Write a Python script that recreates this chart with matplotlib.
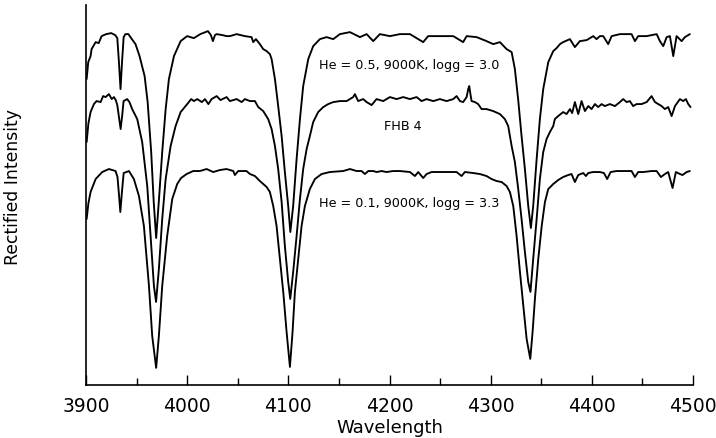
import numpy as np
import matplotlib.pyplot as plt
from matplotlib.ticker import MultipleLocator

# model spectrum, He = 0.5, 9000K, logg = 3.0 (offset upward)
wave_he05 = [3900.7, 3902.3, 3904.6, 3905.6, 3909.6, 3912.6, 3915.5, 3920.0, 3925.0, 3929.0,
             3931.0, 3932.5, 3934.2, 3935.8, 3937.3, 3939.0, 3942.0, 3944.0, 3949.0, 3953.0,
             3958.0, 3961.0, 3964.5, 3967.0, 3969.4, 3972.0, 3975.4, 3978.8, 3982.0, 3987.0,
             3993.6, 4000.0, 4006.7, 4013.0, 4020.6, 4023.5, 4025.5, 4027.5, 4029.2, 4035.0,
             4039.0, 4042.3, 4048.9, 4057.1, 4063.7, 4065.3, 4068.0, 4071.9, 4075.2, 4078.6,
             4081.8, 4083.5, 4086.8, 4090.0, 4093.4, 4096.6, 4099.9, 4102.0, 4104.8, 4108.2,
             4111.5, 4114.7, 4119.7, 4124.6, 4131.2, 4137.8, 4144.4, 4151.0, 4160.9, 4170.8,
             4177.4, 4183.9, 4190.5, 4200.4, 4210.3, 4220.2, 4228.4, 4233.3, 4238.2, 4249.8,
             4263.0, 4272.8, 4276.2, 4286.1, 4295.9, 4302.5, 4309.1, 4315.7, 4320.7, 4323.9,
             4327.2, 4330.5, 4333.8, 4337.1, 4339.7, 4342.0, 4345.4, 4348.6, 4351.9, 4356.9,
             4361.8, 4365.1, 4368.4, 4371.6, 4378.3, 4383.2, 4388.1, 4394.8, 4401.3, 4404.6,
             4407.9, 4411.2, 4416.1, 4419.5, 4427.7, 4439.2, 4442.5, 4445.8, 4454.1, 4464.0,
             4467.2, 4470.5, 4473.9, 4477.1, 4480.4, 4483.7, 4488.7, 4491.9, 4496.8]
flux_he05 = [3.06, 3.23, 3.29, 3.36, 3.43, 3.42, 3.49, 3.51, 3.52, 3.50,
             3.47, 3.25, 2.96, 3.25, 3.48, 3.51, 3.51, 3.48, 3.41, 3.29,
             3.09, 2.83, 2.33, 1.83, 1.47, 1.83, 2.33, 2.76, 3.06, 3.29,
             3.44, 3.49, 3.47, 3.51, 3.54, 3.50, 3.44, 3.50, 3.51, 3.50,
             3.49, 3.49, 3.51, 3.49, 3.48, 3.43, 3.46, 3.41, 3.36, 3.34,
             3.31, 3.26, 3.06, 2.79, 2.49, 2.13, 1.79, 1.53, 1.79, 2.26,
             2.66, 2.99, 3.26, 3.39, 3.46, 3.48, 3.46, 3.51, 3.53, 3.48,
             3.51, 3.44, 3.51, 3.49, 3.51, 3.51, 3.46, 3.43, 3.49, 3.49,
             3.49, 3.43, 3.49, 3.48, 3.44, 3.41, 3.43, 3.36, 3.33, 3.16,
             2.85, 2.49, 2.16, 1.79, 1.57, 1.79, 2.26, 2.66, 2.96, 3.23,
             3.34, 3.37, 3.41, 3.43, 3.46, 3.38, 3.44, 3.45, 3.49, 3.46,
             3.49, 3.49, 3.41, 3.49, 3.51, 3.51, 3.44, 3.49, 3.49, 3.51,
             3.44, 3.39, 3.48, 3.49, 3.29, 3.49, 3.44, 3.48, 3.51]

# observed spectrum of FHB 4
wave_fhb4 = [3900.7, 3902.5, 3904.6, 3907.9, 3910.5, 3914.5, 3917.0, 3919.5, 3922.7, 3925.5,
             3927.7, 3929.5, 3931.0, 3932.6, 3934.3, 3935.9, 3937.2, 3940.8, 3943.0, 3945.7,
             3950.7, 3955.6, 3960.6, 3963.9, 3967.2, 3969.3, 3972.1, 3975.4, 3978.8, 3983.7,
             3988.6, 3993.6, 4000.1, 4004.0, 4006.7, 4010.0, 4014.6, 4017.6, 4021.0, 4024.2,
             4029.2, 4033.0, 4039.0, 4042.3, 4048.9, 4053.9, 4057.1, 4062.1, 4067.0, 4070.3,
             4075.2, 4080.1, 4083.5, 4086.8, 4090.0, 4093.4, 4096.6, 4099.9, 4101.9, 4104.8,
             4108.2, 4111.5, 4114.7, 4118.1, 4121.3, 4124.6, 4129.5, 4134.5, 4139.4, 4144.4,
             4151.0, 4157.6, 4164.1, 4165.8, 4169.0, 4174.0, 4177.4, 4182.3, 4187.2, 4193.8,
             4200.4, 4207.0, 4213.5, 4220.2, 4226.8, 4231.7, 4236.6, 4243.2, 4249.8, 4256.4,
             4263.0, 4266.3, 4269.6, 4272.8, 4276.2, 4277.8, 4278.8, 4279.8, 4281.1, 4284.4,
             4287.6, 4291.0, 4295.9, 4302.5, 4309.1, 4314.0, 4317.3, 4320.7, 4323.9, 4327.2,
             4330.5, 4333.8, 4337.1, 4339.3, 4342.0, 4345.4, 4348.6, 4351.9, 4355.2, 4358.5,
             4361.8, 4363.4, 4366.7, 4371.6, 4375.0, 4378.3, 4380.5, 4383.2, 4386.5, 4389.8,
             4393.1, 4396.4, 4399.7, 4403.0, 4406.2, 4409.6, 4412.8, 4417.8, 4422.7, 4427.7,
             4430.9, 4434.3, 4437.5, 4440.8, 4444.2, 4449.1, 4454.1, 4459.0, 4462.3, 4465.5,
             4468.9, 4472.1, 4475.4, 4478.8, 4482.1, 4487.0, 4490.2, 4492.9, 4495.2, 4497.5]
flux_fhb4 = [2.43, 2.62, 2.73, 2.81, 2.84, 2.83, 2.89, 2.88, 2.91, 2.86,
             2.88, 2.85, 2.80, 2.68, 2.56, 2.70, 2.84, 2.86, 2.83, 2.76,
             2.66, 2.43, 1.99, 1.49, 0.99, 0.83, 1.16, 1.66, 2.06, 2.39,
             2.59, 2.73, 2.81, 2.86, 2.84, 2.86, 2.83, 2.86, 2.81, 2.86,
             2.89, 2.85, 2.88, 2.84, 2.86, 2.83, 2.86, 2.84, 2.84, 2.78,
             2.74, 2.66, 2.56, 2.39, 2.16, 1.83, 1.39, 1.03, 0.86, 1.13,
             1.49, 1.86, 2.16, 2.36, 2.49, 2.63, 2.73, 2.78, 2.81, 2.83,
             2.84, 2.84, 2.88, 2.91, 2.84, 2.86, 2.83, 2.80, 2.86, 2.84,
             2.88, 2.86, 2.88, 2.86, 2.88, 2.84, 2.86, 2.84, 2.86, 2.84,
             2.86, 2.89, 2.84, 2.83, 2.88, 2.96, 2.99, 2.92, 2.84, 2.83,
             2.81, 2.76, 2.76, 2.74, 2.71, 2.66, 2.59, 2.39, 2.23, 1.96,
             1.66, 1.33, 1.03, 0.93, 1.26, 1.66, 2.06, 2.33, 2.46, 2.53,
             2.59, 2.66, 2.69, 2.73, 2.71, 2.76, 2.72, 2.83, 2.71, 2.84,
             2.74, 2.79, 2.76, 2.81, 2.78, 2.81, 2.79, 2.81, 2.79, 2.83,
             2.86, 2.83, 2.84, 2.79, 2.81, 2.81, 2.83, 2.89, 2.83, 2.81,
             2.79, 2.76, 2.78, 2.69, 2.79, 2.86, 2.84, 2.86, 2.81, 2.78]

# model spectrum, He = 0.1, 9000K, logg = 3.3
wave_he01 = [3900.7, 3902.5, 3904.6, 3909.6, 3916.1, 3922.7, 3929.3, 3931.2, 3932.7, 3934.0,
             3935.5, 3937.3, 3942.5, 3947.4, 3952.4, 3957.3, 3962.3, 3965.5, 3969.4, 3972.1,
             3975.4, 3980.3, 3985.3, 3990.2, 3994.0, 3999.5, 4006.0, 4012.6, 4019.3, 4025.8,
             4032.4, 4039.0, 4045.6, 4047.2, 4050.5, 4058.7, 4062.1, 4067.0, 4071.9, 4075.2,
             4078.6, 4081.8, 4085.1, 4088.4, 4091.7, 4095.0, 4098.3, 4101.6, 4104.2, 4106.5,
             4109.8, 4113.1, 4116.4, 4121.3, 4126.3, 4132.9, 4141.1, 4154.2, 4160.9, 4167.5,
             4172.4, 4175.7, 4179.0, 4183.9, 4187.3, 4192.2, 4197.1, 4203.7, 4210.3, 4220.2,
             4225.1, 4228.4, 4233.3, 4236.7, 4241.6, 4249.8, 4259.7, 4266.3, 4271.2, 4274.5,
             4282.7, 4289.3, 4295.9, 4300.9, 4305.8, 4310.8, 4315.7, 4319.0, 4322.3, 4325.6,
             4328.9, 4332.2, 4335.5, 4339.1, 4341.4, 4343.7, 4347.0, 4350.4, 4353.6, 4356.9,
             4361.8, 4366.7, 4371.6, 4376.6, 4379.9, 4383.2, 4386.5, 4391.4, 4394.1, 4396.4,
             4401.3, 4407.9, 4411.9, 4415.1, 4418.5, 4424.4, 4434.3, 4439.2, 4442.5, 4445.8,
             4450.7, 4459.0, 4464.0, 4468.2, 4472.2, 4475.4, 4479.7, 4483.0, 4487.0, 4489.6,
             4493.6, 4496.8]
flux_he01 = [1.66, 1.82, 1.93, 2.06, 2.13, 2.16, 2.14, 2.08, 1.90, 1.73,
             1.92, 2.12, 2.14, 2.06, 1.89, 1.59, 0.99, 0.49, 0.17, 0.49,
             0.99, 1.49, 1.86, 2.01, 2.07, 2.11, 2.14, 2.14, 2.16, 2.13,
             2.15, 2.16, 2.14, 2.10, 2.14, 2.14, 2.11, 2.09, 2.04, 2.01,
             1.98, 1.93, 1.79, 1.59, 1.26, 0.93, 0.53, 0.18, 0.53, 0.93,
             1.26, 1.59, 1.79, 1.96, 2.06, 2.11, 2.13, 2.14, 2.16, 2.14,
             2.14, 2.11, 2.14, 2.14, 2.13, 2.14, 2.13, 2.14, 2.14, 2.13,
             2.09, 2.13, 2.07, 2.11, 2.13, 2.13, 2.13, 2.13, 2.09, 2.13,
             2.12, 2.11, 2.09, 2.06, 2.04, 2.03, 1.99, 1.93, 1.79, 1.49,
             1.13, 0.79, 0.46, 0.26, 0.53, 0.86, 1.26, 1.59, 1.83, 1.96,
             2.01, 2.05, 2.08, 2.10, 2.11, 2.03, 2.10, 2.12, 2.09, 2.12,
             2.13, 2.13, 2.12, 2.06, 2.13, 2.14, 2.14, 2.14, 2.08, 2.13,
             2.13, 2.14, 2.14, 2.08, 2.11, 2.13, 1.97, 2.13, 2.11, 2.10,
             2.13, 2.14]

labels = ['He = 0.5, 9000K, logg = 3.0', 'FHB 4', 'He = 0.1, 9000K, logg = 3.3']
label_pos = [(4219, 3.21), (4213, 2.60), (4219, 1.83)]

fig = plt.figure(figsize=(7.16, 4.39), dpi=100)
ax = fig.add_axes([0.120, 0.121, 0.848, 0.865])

for w, f in [(wave_he05, flux_he05), (wave_fhb4, flux_fhb4), (wave_he01, flux_he01)]:
    ax.plot(np.array(w), np.array(f), color='black', lw=1.35,
            solid_joinstyle='round', solid_capstyle='round')

for txt, (x, y) in zip(labels, label_pos):
    ax.text(x, y, txt, ha='center', va='center', fontsize=9.2)

ax.set_xlim(3900, 4500)
ax.set_ylim(0, 3.80)
ax.spines['top'].set_visible(False)
ax.spines['right'].set_visible(False)
ax.spines['left'].set_linewidth(1.2)
ax.spines['bottom'].set_linewidth(1.2)

ax.xaxis.set_major_locator(MultipleLocator(100))
ax.xaxis.set_minor_locator(MultipleLocator(50))
ax.tick_params(axis='x', which='major', direction='in', length=7, width=1, labelsize=13.5, pad=8)
ax.tick_params(axis='x', which='minor', direction='in', length=5, width=1)
ax.set_yticks([])

ax.set_xlabel('Wavelength', fontsize=13, labelpad=2)
ax.set_ylabel('Rectified Intensity', fontsize=12.4)
ax.yaxis.set_label_coords(-0.105, 0.524)

fig.savefig('out.png', dpi=100)
